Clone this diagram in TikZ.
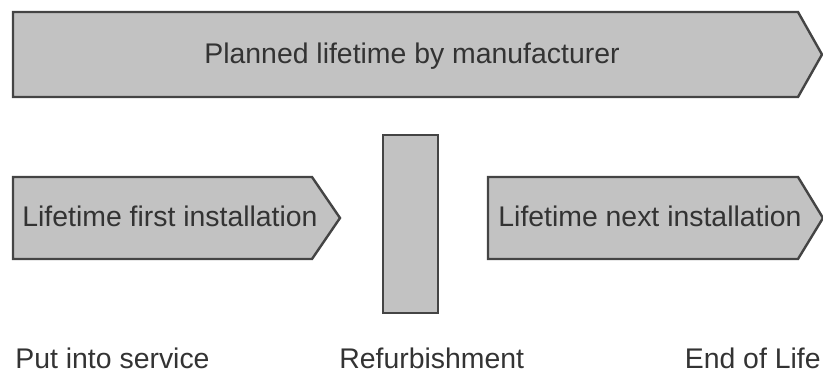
\documentclass[tikz,border=0pt]{standalone}
\usepackage{fontspec}
\setmainfont{Liberation Sans}
\definecolor{boxfill}{HTML}{C2C2C2}
\definecolor{boxline}{HTML}{444444}
\definecolor{labeltext}{HTML}{333333}
\begin{document}
\begin{tikzpicture}[x=0.5pt,y=-0.5pt,
  shapebox/.style={fill=boxfill,draw=boxline,line width=1.2pt,line join=miter},
  txt/.style={font=\fontsize{14.2}{17}\selectfont,text=labeltext,inner sep=0pt}]
\useasboundingbox (0,0) rectangle (823,373);

% overall lifetime arrow
\draw[shapebox] (13,12) -- (798,12) -- (822,54.5) -- (798,97) -- (13,97) -- cycle;
\node[txt,anchor=base] (planned) at (412,64) {Planned lifetime by manufacturer};

% first installation arrow
\draw[shapebox] (13,177) -- (312,177) -- (340,218) -- (312,259) -- (13,259) -- cycle;
\node[txt,anchor=base west] (first) at (22,227) {Lifetime first installation};

% refurbishment bar
\node[shapebox,minimum width=27.5pt,minimum height=89pt,inner sep=0pt] (refurbbar) at (410.5,224) {};

% next installation arrow
\draw[shapebox] (488,177) -- (798,177) -- (823,218) -- (798,259) -- (488,259) -- cycle;
\node[txt,anchor=base west] (next) at (498,227) {Lifetime next installation};

% milestone labels
\node[txt,anchor=base west] (service) at (15,368) {Put into service};
\node[txt,anchor=base west] (refurb) at (339,368) {Refurbishment};
\node[txt,anchor=base east] (eol) at (821,368) {End of Life};
\end{tikzpicture}
\end{document}
